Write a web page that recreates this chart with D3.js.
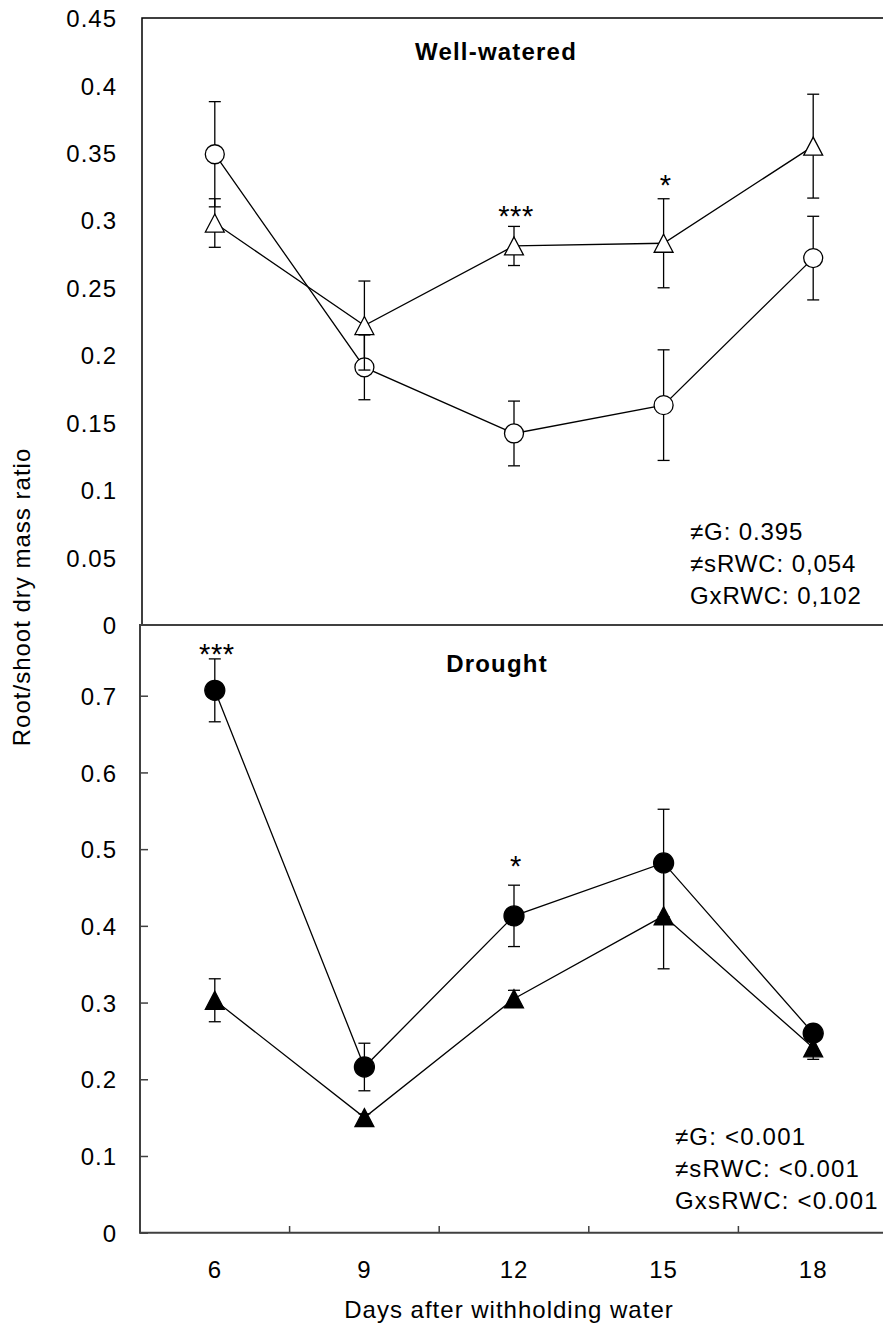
<!DOCTYPE html>
<html>
<head>
<meta charset="utf-8">
<script src="https://cdn.jsdelivr.net/npm/d3@7"></script>
<style>
  body { margin: 0; background: #fff; }
  text { font-family: "Liberation Sans", Arial, sans-serif; fill: #000; }
</style>
</head>
<body>
<div id="chart"></div>
<script>
// days after withholding water
var days = [6, 9, 12, 15, 18];

// well-watered panel (open symbols)
var ww_circle = [0.349, 0.191, 0.142, 0.163, 0.272];
var ww_circle_se = [0.039, 0.024, 0.024, 0.041, 0.031];
var ww_tri = [0.298, 0.222, 0.281, 0.283, 0.355];
var ww_tri_se = [0.018, 0.033, 0.0145, 0.033, 0.0385];

// drought panel (filled symbols)
var dr_circle = [0.707, 0.216, 0.413, 0.482, 0.26];
var dr_circle_se = [0.041, 0.031, 0.04, 0.07, 0.01];
var dr_tri = [0.303, 0.15, 0.305, 0.413, 0.241];
var dr_tri_se = [0.028, 0.005, 0.011, 0.069, 0.015];

var top_ticks = [0, 0.05, 0.1, 0.15, 0.2, 0.25, 0.3, 0.35, 0.4, 0.45];
var bot_ticks = [0, 0.1, 0.2, 0.3, 0.4, 0.5, 0.6, 0.7];

var top_stars = [{ day: 12, s: "***" }, { day: 15, s: "*" }];
var bot_stars = [{ day: 6, s: "***" }, { day: 12, s: "*" }];

var top_stats = ["≠G: 0.395", "≠sRWC: 0,054", "GxRWC: 0,102"];
var bot_stats = ["≠G: <0.001", "≠sRWC: <0.001", "GxsRWC: <0.001"];

var W = 883, H = 1328;
var svg = d3.select("#chart").append("svg").attr("width", W).attr("height", H);

var x = d3.scaleBand().domain(days).range([140, 888]);
var cx = (d) => x(d) + x.bandwidth() / 2;
var yTop = d3.scaleLinear().domain([0, 0.45]).range([625, 18]);
var yBot = d3.scaleLinear().domain([0, 0.8]).range([1232.7, 619]);

var fs = 24;
var axis_grey = "#404040";

function tri(h) {
  return `M0,${-h}L${h * 1.05},${h}L${-h * 1.05},${h}Z`;
}

function series(g, y, vals, se, shape, fill, r) {
  var data = days.map((d, i) => ({ d: d, v: vals[i], e: se[i] }));
  g.append("path")
    .attr("fill", "none")
    .attr("stroke", "#000")
    .attr("stroke-width", 1.3)
    .attr("d", d3.line().x((p) => cx(p.d)).y((p) => y(p.v))(data));
  var eb = g.append("g").attr("stroke", "#000").attr("stroke-width", 1.3);
  data.forEach(function (p) {
    eb.append("line").attr("x1", cx(p.d)).attr("x2", cx(p.d))
      .attr("y1", y(p.v - p.e)).attr("y2", y(p.v + p.e));
    [p.v - p.e, p.v + p.e].forEach(function (v) {
      eb.append("line").attr("x1", cx(p.d) - 6).attr("x2", cx(p.d) + 6)
        .attr("y1", y(v)).attr("y2", y(v));
    });
  });
  data.forEach(function (p) {
    if (shape == "circle") {
      g.append("circle").attr("cx", cx(p.d)).attr("cy", y(p.v)).attr("r", r)
        .attr("fill", fill).attr("stroke", "#000").attr("stroke-width", 1.3);
    } else {
      g.append("path").attr("d", tri(r - 0.5))
        .attr("transform", `translate(${cx(p.d)},${y(p.v)})`)
        .attr("fill", fill).attr("stroke", "#000").attr("stroke-width", 1.3);
    }
  });
}

// ---- top panel (well-watered)
var gt = svg.append("g");
gt.append("path").attr("fill", "none").attr("stroke", "#000").attr("stroke-width", 1.5)
  .attr("d", `M142,625V18H883`);
var topAxis = gt.append("g").attr("transform", "translate(142,0)")
  .call(d3.axisLeft(yTop).tickValues(top_ticks).tickSize(0).tickPadding(25).tickFormat((d) => String(d)));
topAxis.select(".domain").remove();
topAxis.selectAll("text").style("font-size", fs + "px").style("letter-spacing", "1px")
  .attr("font-family", null).attr("dy", "0.36em");

series(gt, yTop, ww_circle, ww_circle_se, "circle", "#fff", 9.5);
series(gt, yTop, ww_tri, ww_tri_se, "tri", "#fff", 9.5);

gt.append("text").attr("x", 496).attr("y", 60).attr("text-anchor", "middle")
  .style("font-size", fs + "px").style("font-weight", "bold").style("letter-spacing", "1.2px")
  .text("Well-watered");
gt.selectAll(".star").data(top_stars).enter().append("text")
  .attr("x", (d) => cx(d.day) + 2).attr("y", (d) => (d.s == "*" ? 195 : 226))
  .attr("text-anchor", "middle").style("font-size", "29px").style("letter-spacing", "0.5px")
  .text((d) => d.s);
gt.selectAll(".stat").data(top_stats).enter().append("text")
  .attr("x", 690).attr("y", (d, i) => 540 + i * 32)
  .style("font-size", fs + "px").style("letter-spacing", "0.9px")
  .text((d) => d);

// ---- bottom panel (drought)
var gb = svg.append("g");
var botAxis = gb.append("g").attr("transform", "translate(140,0)")
  .call(d3.axisLeft(yBot).tickValues(bot_ticks).tickSizeInner(-8).tickSizeOuter(0).tickPadding(23).tickFormat((d) => String(d)));
botAxis.select(".domain").remove();
botAxis.selectAll("line").attr("stroke", axis_grey).attr("stroke-width", 1.5);
botAxis.selectAll("text").style("font-size", fs + "px").style("letter-spacing", "1px")
  .attr("font-family", null).attr("dy", "0.36em");

var xAxis = gb.append("g").attr("transform", "translate(0,1232.7)")
  .call(d3.axisBottom(x).tickSize(0).tickPadding(28));
xAxis.select(".domain").remove();
xAxis.selectAll("text").style("font-size", fs + "px").style("letter-spacing", "1px")
  .attr("font-family", null);

gb.selectAll(".xtick").data(days.slice(1)).enter().append("line")
  .attr("x1", (d) => x(d)).attr("x2", (d) => x(d))
  .attr("y1", 1232.7).attr("y2", 1226)
  .attr("stroke", axis_grey).attr("stroke-width", 1.5);

gb.append("path").attr("fill", "none").attr("stroke", axis_grey).attr("stroke-width", 2)
  .attr("d", `M139,625H883M140,625V1232.7H883`);

series(gb, yBot, dr_circle, dr_circle_se, "circle", "#000", 10);
series(gb, yBot, dr_tri, dr_tri_se, "tri", "#000", 9.5);

gb.append("text").attr("x", 497).attr("y", 672).attr("text-anchor", "middle")
  .style("font-size", fs + "px").style("font-weight", "bold").style("letter-spacing", "1.2px")
  .text("Drought");
gb.selectAll(".star").data(bot_stars).enter().append("text")
  .attr("x", (d) => cx(d.day) + 2).attr("y", (d) => (d.s == "*" ? 876 : 664))
  .attr("text-anchor", "middle").style("font-size", "29px").style("letter-spacing", "0.5px")
  .text((d) => d.s);
gb.selectAll(".stat").data(bot_stats).enter().append("text")
  .attr("x", 675).attr("y", (d, i) => 1145 + i * 32)
  .style("font-size", fs + "px").style("letter-spacing", "1.2px")
  .text((d) => d);

// axis titles
svg.append("text").attr("x", 509).attr("y", 1318).attr("text-anchor", "middle")
  .style("font-size", fs + "px").style("letter-spacing", "1px")
  .text("Days after withholding water");
svg.append("text").attr("transform", "translate(30,597) rotate(-90)").attr("text-anchor", "middle")
  .style("font-size", fs + "px").style("letter-spacing", "1px")
  .text("Root/shoot dry mass ratio");
</script>
</body>
</html>
